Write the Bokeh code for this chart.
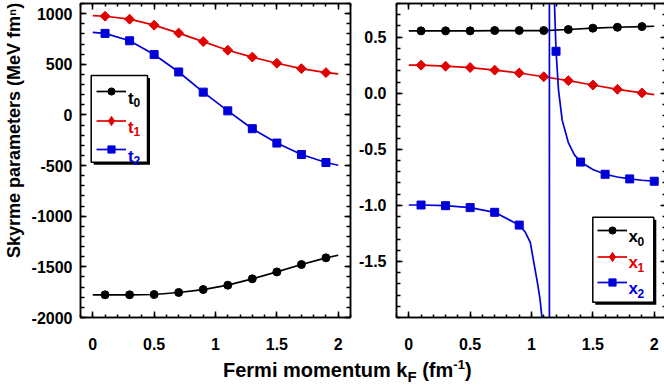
import math
from bokeh.plotting import figure
from bokeh.models import (FixedTicker, LinearAxis, CustomJSTickFormatter, Legend, LegendItem,
                          BoxAnnotation, Label, Div, Range1d)
from bokeh.layouts import row, column
from bokeh.embed import file_html
from bokeh.resources import INLINE

FONT = "Liberation Sans"
BLACK = "#000000"
RED = "#e00000"
BLUE = "#0000d8"

# ---------------- data ----------------
kf_pts = [0.1, 0.3, 0.5, 0.7, 0.9, 1.1, 1.3, 1.5, 1.7, 1.9]
t0_pts = [-1776, -1776, -1773, -1753, -1724, -1681, -1618, -1550, -1477, -1411]
t1_pts = [974, 945, 886, 808, 724, 639, 571, 510, 457, 418]
t2_pts = [805, 732, 596, 424, 225, 40, -136, -278, -391, -470]
x0_pts = [0.556, 0.556, 0.556, 0.559, 0.559, 0.559, 0.568, 0.580, 0.588, 0.594]
x1_pts = [0.250, 0.241, 0.229, 0.206, 0.180, 0.147, 0.112, 0.073, 0.035, 0.003]
kf_x2_pts = [0.1, 0.3, 0.5, 0.7, 0.9, 1.2, 1.4, 1.6, 1.8, 2.0]
x2_pts = [-0.997, -1.003, -1.020, -1.062, -1.176, 0.374, -0.614, -0.723, -0.764, -0.785]

kf_curve = [0.0, 0.1, 0.3, 0.5, 0.7, 0.9, 1.1, 1.3, 1.5, 1.7, 1.9, 2.0]
t0_curve = [-1776, -1776, -1776, -1773, -1753, -1724, -1681, -1618, -1550, -1477, -1411, -1385]
t1_curve = [980, 974, 945, 886, 808, 724, 639, 571, 510, 457, 418, 405]
t2_curve = [815, 805, 732, 596, 424, 225, 40, -136, -278, -391, -470, -497]
x0_curve = [0.556, 0.556, 0.556, 0.556, 0.559, 0.559, 0.559, 0.568, 0.580, 0.588, 0.594, 0.597]
x1_curve = [0.250, 0.250, 0.241, 0.229, 0.206, 0.180, 0.147, 0.112, 0.073, 0.035, 0.003, -0.012]
kf_x2_curve = [0.0, 0.1, 0.3, 0.5, 0.7, 0.9, 0.95, 0.99, 1.024, 1.05, 1.07, 1.085, 1.10,
               1.146, 1.146, 1.187, 1.2, 1.22, 1.25, 1.3, 1.35, 1.4, 1.5, 1.6, 1.7, 1.8, 1.9, 2.0]
x2_curve = [-0.997, -0.997, -1.003, -1.020, -1.062, -1.176, -1.24, -1.33, -1.54, -1.70, -1.84,
            -2.0, -2.3, -8.0, 8.0, 0.80, 0.374, 0.03, -0.24, -0.44, -0.55, -0.614, -0.68,
            -0.723, -0.747, -0.764, -0.776, -0.785]

x_major = [0, 0.5, 1, 1.5, 2]
x_minor = [round(-0.1 + 0.1 * i, 1) for i in range(23)]
yl_major = [-2000, -1500, -1000, -500, 0, 500, 1000]
yl_minor = [-2000 + 100 * i for i in range(32)]
yr_major = [-1.5, -1.0, -0.5, 0.0, 0.5]
yr_minor = [round(-2.0 + 0.1 * i, 1) for i in range(29)]

FW, FH = 270, 314


def style_axis(ax, ticks, minor, code, labels=True, minor_len=3):
    ax.ticker = FixedTicker(ticks=ticks, minor_ticks=minor)
    ax.formatter = CustomJSTickFormatter(code=code)
    ax.axis_line_color = "black"
    ax.axis_line_width = 1.5
    ax.major_tick_line_width = 1.5
    ax.minor_tick_line_width = 1.5
    ax.major_tick_in = 6
    ax.major_tick_out = 0
    ax.minor_tick_in = minor_len
    ax.minor_tick_out = 0
    ax.major_label_text_font = FONT
    ax.major_label_text_font_style = "bold"
    ax.major_label_text_color = "black"
    if labels:
        ax.major_label_text_font_size = "16px"
    else:
        ax.major_label_text_font_size = "0px"
        ax.major_label_standoff = 0
        ax.major_label_text_alpha = 0


def make_fig(y_range, mbl, mbr, y_major, y_minor, y_code, y_standoff):
    p = figure(frame_width=FW, frame_height=FH, x_range=Range1d(-0.1, 2.1), y_range=y_range,
               output_backend="svg", toolbar_location=None,
               min_border_left=mbl, min_border_right=mbr, min_border_top=3, min_border_bottom=40,
               background_fill_color="white", border_fill_color="white")
    p.grid.visible = False
    p.outline_line_color = "black"
    p.outline_line_width = 1.5
    xcode = "return String(Math.round(tick*10)/10)"
    style_axis(p.xaxis[0], x_major, x_minor, xcode)
    p.xaxis[0].major_label_standoff = 20
    style_axis(p.yaxis[0], y_major, y_minor, y_code, minor_len=4)
    p.yaxis[0].major_label_standoff = y_standoff
    top = LinearAxis()
    style_axis(top, x_major, x_minor, xcode, labels=False)
    p.add_layout(top, "above")
    right = LinearAxis()
    style_axis(right, y_major, y_minor, y_code, labels=False, minor_len=4)
    p.add_layout(right, "right")
    return p


def add_series(p, xc, yc, xp, yp, color, marker, size, angle=0.0):
    lr = p.line(xc, yc, line_color=color, line_width=1.7)
    sr = p.scatter(xp, yp, marker=marker, size=size, angle=angle,
                   fill_color=color, line_color=color, line_width=1)
    return lr, sr


def add_legend(p, entries, box, line_x, text_x, sub_dx, text_dy, sub_dy, rows):
    l, r, t, b = box
    p.add_layout(BoxAnnotation(left=l + 2.5, right=r + 2.5, top=t - 2.5, bottom=b - 2.5,
                               left_units="screen", right_units="screen",
                               top_units="screen", bottom_units="screen",
                               fill_color="black", fill_alpha=1.0, line_alpha=0))
    p.add_layout(BoxAnnotation(left=l, right=r, top=t, bottom=b,
                               left_units="screen", right_units="screen",
                               top_units="screen", bottom_units="screen",
                               fill_color="white", fill_alpha=1.0,
                               line_color="black", line_width=1.5, line_alpha=1.0))
    for (rs, gh, main, sub, color), ry in zip(entries, rows):
        leg = Legend(items=[LegendItem(label=" ", renderers=list(rs))],
                     location=(line_x, ry - gh / 2.0), glyph_width=30, glyph_height=gh,
                     label_height=gh, label_width=0, spacing=0, padding=0, margin=0,
                     label_standoff=0, border_line_alpha=0, background_fill_alpha=0,
                     inactive_fill_alpha=0, label_text_font_size="1px")
        p.add_layout(leg)
        p.add_layout(Label(x=text_x, y=ry - text_dy, x_units="screen", y_units="screen",
                           text=main, text_font=FONT, text_font_style="bold",
                           text_font_size="17px", text_color=color,
                           text_baseline="alphabetic", text_align="left"))
        p.add_layout(Label(x=text_x + sub_dx, y=ry - sub_dy, x_units="screen", y_units="screen",
                           text=sub, text_font=FONT, text_font_style="bold",
                           text_font_size="12px", text_color=color,
                           text_baseline="alphabetic", text_align="left"))


# ---------------- left panel ----------------
p1 = make_fig(Range1d(-2000, 1100), 76, 5, yl_major, yl_minor, "return tick.toFixed(0)", 8)
yax = p1.yaxis[0]
# leading no-break spaces move the centred label up, as in the reference
yax.axis_label = "\u00a0" * 12 + "Skyrme parameters (MeV fm\u207f)"
yax.axis_label_text_font = FONT
yax.axis_label_text_font_style = "bold"
yax.axis_label_text_font_size = "18px"
yax.axis_label_text_color = "black"
yax.axis_label_standoff = 5

r_t0 = add_series(p1, kf_curve, t0_curve, kf_pts, t0_pts, BLACK, "circle", 8)
d_t1 = p1.scatter(kf_pts, t1_pts, marker="diamond", fill_color=RED, line_color=RED,
                  line_width=1, visible=False)
r_t1 = add_series(p1, kf_curve, t1_curve, kf_pts, t1_pts, RED, "square", 7, angle=math.pi / 4)
r_t2 = add_series(p1, kf_curve, t2_curve, kf_pts, t2_pts, BLUE, "square", 8)
add_legend(p1, [((r_t0[0], r_t0[1]), 18, "t", "0", BLACK),
                ((r_t1[0], d_t1), 23, "t", "1", RED),
                ((r_t2[0], r_t2[1]), 18, "t", "2", BLUE)],
           box=(10.7, 67, 242, 155.3), line_x=15.7, text_x=47.5, sub_dx=5.5,
           text_dy=7, sub_dy=11, rows=[226, 197, 168])

# ---------------- right panel ----------------
p2 = make_fig(Range1d(-2.0, 0.8), 41, 2, yr_major, yr_minor, "return tick.toFixed(1)", 10)
r_x0 = add_series(p2, kf_curve, x0_curve, kf_pts, x0_pts, BLACK, "circle", 8)
d_x1 = p2.scatter(kf_pts, x1_pts, marker="diamond", fill_color=RED, line_color=RED,
                  line_width=1, visible=False)
r_x1 = add_series(p2, kf_curve, x1_curve, kf_pts, x1_pts, RED, "square", 7, angle=math.pi / 4)
r_x2 = add_series(p2, kf_x2_curve, x2_curve, kf_x2_pts, x2_pts, BLUE, "square", 8)
add_legend(p2, [((r_x0[0], r_x0[1]), 18, "x", "0", BLACK),
                ((r_x1[0], d_x1), 23, "x", "1", RED),
                ((r_x2[0], r_x2[1]), 18, "x", "2", BLUE)],
           box=(196.3, 257.3, 100.3, 15.3), line_x=201, text_x=232, sub_dx=9,
           text_dy=5.5, sub_dy=11, rows=[87, 61, 35])

title = Div(text=(
    '<div style="font-family:\'Liberation Sans\',Arial,sans-serif;font-weight:bold;'
    'font-size:20px;line-height:20px;padding-top:3px;padding-left:223px;white-space:nowrap;color:#000">'
    'Fermi momentum k<span style="font-size:15px;position:relative;top:5px">F</span>'
    ' (fm<span style="font-size:13px;position:relative;top:-8px">-1</span>)</div>'),
    width=664, height=29, margin=(0, 0, 0, 0))

layout = column(row(p1, p2), title)
open("out.html", "w").write(file_html(layout, INLINE))
